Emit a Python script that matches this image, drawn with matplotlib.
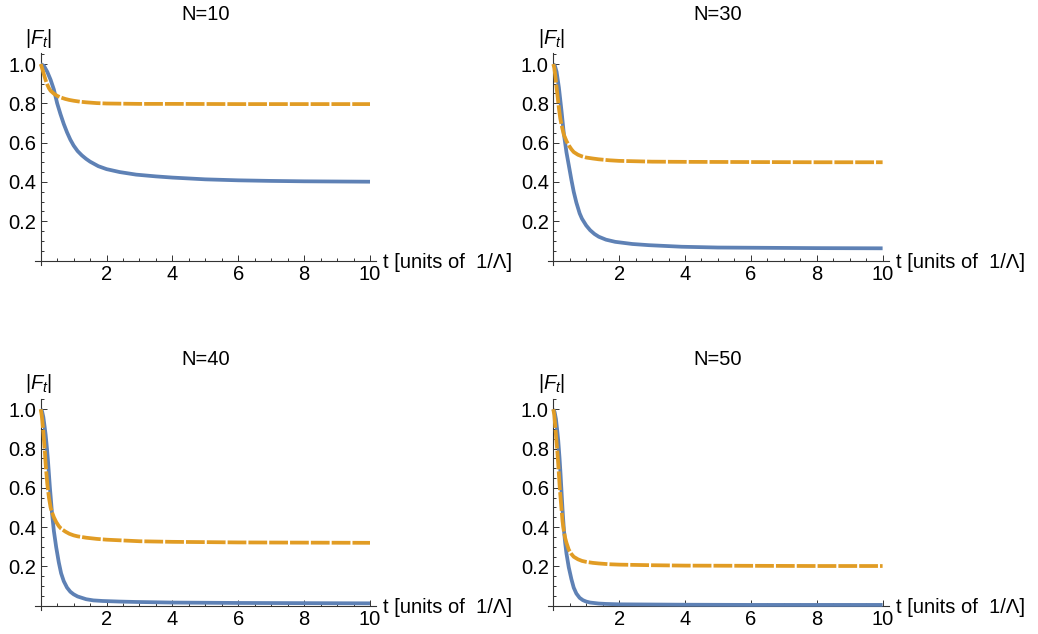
import matplotlib
matplotlib.use("Agg")
import matplotlib.pyplot as plt
from matplotlib.ticker import MultipleLocator

plt.rcParams['font.family'] = ['Liberation Sans', 'DejaVu Sans']
plt.rcParams['mathtext.fontset'] = 'custom'
plt.rcParams['mathtext.rm'] = 'Liberation Sans'
plt.rcParams['mathtext.it'] = 'Liberation Sans:italic'

titles = ["N=10", "N=30", "N=40", "N=50"]
x_label = "t [units of  1/\u039b]"
y_label = r"$|F_t|$"
x_ticks = [2, 4, 6, 8, 10]
y_ticks = [0.2, 0.4, 0.6, 0.8, 1.0]
y_tick_labels = ["0.2", "0.4", "0.6", "0.8", "1.0"]

# N=10
t_blue_10 = [0, 0.1, 0.2, 0.3, 0.4, 0.5, 0.6, 0.7, 0.8, 0.9, 1.0, 1.12, 1.25, 1.38, 1.5, 1.75, 2.0, 2.4, 2.9, 3.5, 4.0, 5.0, 6.0, 7.0, 8.0, 10.0]
y_blue_10 = [1.0, 0.99, 0.96, 0.92, 0.87, 0.80, 0.745, 0.695, 0.652, 0.615, 0.585, 0.557, 0.535, 0.517, 0.503, 0.480, 0.465, 0.450, 0.437, 0.428, 0.422, 0.413, 0.408, 0.405, 0.403, 0.401]
t_orng_10 = [0, 0.05, 0.1, 0.15, 0.2, 0.25, 0.3, 0.4, 0.5, 0.62, 0.75, 0.87, 1.0, 1.2, 1.38, 1.7, 2.0, 2.5, 3.0, 4.0, 6.0, 8.0, 10.0]
y_orng_10 = [1.0, 0.975, 0.945, 0.918, 0.895, 0.877, 0.864, 0.849, 0.838, 0.829, 0.822, 0.817, 0.813, 0.808, 0.805, 0.801, 0.799, 0.798, 0.797, 0.797, 0.796, 0.796, 0.796]

# N=30
t_blue_30 = [0, 0.05, 0.1, 0.17, 0.25, 0.32, 0.4, 0.47, 0.55, 0.62, 0.7, 0.8, 0.87, 1.0, 1.12, 1.25, 1.38, 1.6, 1.88, 2.4, 2.9, 3.9, 5.0, 6.0, 8.0, 10.0]
y_blue_30 = [1.0, 0.99, 0.96, 0.88, 0.76, 0.645, 0.55, 0.485, 0.41, 0.35, 0.295, 0.24, 0.213, 0.178, 0.154, 0.135, 0.121, 0.106, 0.095, 0.084, 0.078, 0.070, 0.066, 0.065, 0.063, 0.062]
t_orng_30 = [0, 0.03, 0.06, 0.1, 0.14, 0.17, 0.21, 0.25, 0.32, 0.4, 0.47, 0.55, 0.62, 0.75, 0.87, 1.0, 1.2, 1.38, 1.7, 2.0, 3.0, 4.0, 6.0, 8.0, 10.0]
y_orng_30 = [1.0, 0.98, 0.94, 0.88, 0.82, 0.775, 0.725, 0.69, 0.64, 0.608, 0.586, 0.566, 0.552, 0.538, 0.530, 0.524, 0.519, 0.515, 0.510, 0.507, 0.503, 0.502, 0.501, 0.500, 0.500]

# N=40
t_blue_40 = [0, 0.04, 0.08, 0.12, 0.15, 0.19, 0.22, 0.25, 0.28, 0.31, 0.34, 0.4, 0.47, 0.55, 0.62, 0.7, 0.8, 0.9, 1.0, 1.12, 1.38, 1.6, 1.88, 2.4, 2.9, 4.0, 6.0, 8.0, 10.0]
y_blue_40 = [1.0, 0.99, 0.96, 0.91, 0.87, 0.80, 0.74, 0.67, 0.60, 0.54, 0.477, 0.38, 0.298, 0.22, 0.165, 0.125, 0.092, 0.071, 0.058, 0.047, 0.033, 0.027, 0.024, 0.021, 0.019, 0.016, 0.014, 0.013, 0.012]
t_orng_40 = [0, 0.03, 0.05, 0.08, 0.1, 0.13, 0.15, 0.2, 0.25, 0.3, 0.34, 0.4, 0.47, 0.55, 0.62, 0.75, 0.87, 1.0, 1.12, 1.38, 1.7, 2.0, 3.0, 4.0, 6.0, 8.0, 10.0]
y_orng_40 = [1.0, 0.97, 0.94, 0.885, 0.84, 0.775, 0.72, 0.62, 0.55, 0.50, 0.477, 0.45, 0.426, 0.405, 0.392, 0.377, 0.366, 0.358, 0.353, 0.346, 0.340, 0.336, 0.328, 0.325, 0.322, 0.321, 0.320]

# N=50
t_blue_50 = [0, 0.04, 0.08, 0.12, 0.15, 0.19, 0.22, 0.25, 0.28, 0.32, 0.36, 0.4, 0.47, 0.55, 0.62, 0.7, 0.8, 0.9, 1.0, 1.12, 1.38, 1.6, 2.0, 3.0, 4.0, 6.0, 10.0]
y_blue_50 = [1.0, 0.985, 0.95, 0.89, 0.84, 0.75, 0.67, 0.58, 0.49, 0.39, 0.32, 0.265, 0.195, 0.135, 0.092, 0.062, 0.040, 0.028, 0.021, 0.016, 0.011, 0.009, 0.007, 0.006, 0.005, 0.004, 0.004]
t_orng_50 = [0, 0.03, 0.05, 0.08, 0.1, 0.12, 0.15, 0.2, 0.25, 0.28, 0.32, 0.36, 0.4, 0.47, 0.55, 0.62, 0.75, 0.87, 1.0, 1.2, 1.38, 1.7, 2.0, 3.0, 4.0, 6.0, 8.0, 10.0]
y_orng_50 = [1.0, 0.97, 0.93, 0.87, 0.83, 0.79, 0.72, 0.59, 0.49, 0.43, 0.38, 0.345, 0.32, 0.285, 0.263, 0.249, 0.236, 0.228, 0.223, 0.218, 0.215, 0.211, 0.209, 0.206, 0.204, 0.203, 0.202, 0.202]

blue_t = [t_blue_10, t_blue_30, t_blue_40, t_blue_50]
blue_y = [y_blue_10, y_blue_30, y_blue_40, y_blue_50]
orng_t = [t_orng_10, t_orng_30, t_orng_40, t_orng_50]
orng_y = [y_orng_10, y_orng_30, y_orng_40, y_orng_50]

BLUE = "#5E81B5"
ORANGE = "#E19C24"

W, H = 1038, 634
fig = plt.figure(figsize=(W / 100, H / 100), dpi=100)

XMIN, XMAX = -0.17, 10.18
YMIN, YMAX = -0.023, 1.054
PX_X = 32.93   # pixels per t unit
PX_Y = 196.5   # pixels per y unit

# pixel positions of the data origin for each panel
origins = [(40.7, 260.5), (553.3, 260.5), (40.7, 605.7), (553.3, 605.7)]

FS = 14.5
for i, (ox, oy) in enumerate(origins):
    left_px = ox + XMIN * PX_X
    right_px = ox + XMAX * PX_X
    top_px = oy - YMAX * PX_Y
    bot_px = oy - YMIN * PX_Y
    ax = fig.add_axes([left_px / W, 1 - bot_px / H, (right_px - left_px) / W, (bot_px - top_px) / H])
    ax.set_xlim(XMIN, XMAX)
    ax.set_ylim(YMIN, YMAX)
    ax.patch.set_alpha(0)
    ax.plot(blue_t[i], blue_y[i], color=BLUE, lw=2.7, solid_capstyle='butt',
            solid_joinstyle='round', zorder=3)
    ax.plot(orng_t[i], orng_y[i], color=ORANGE, lw=2.7, dashes=[5.0, 0.55],
            dash_joinstyle='round', zorder=4)
    for s in ['top', 'right']:
        ax.spines[s].set_visible(False)
    ax.spines['left'].set_position(('data', 0))
    ax.spines['bottom'].set_position(('data', 0))
    for s in ['left', 'bottom']:
        ax.spines[s].set_linewidth(0.8)
        ax.spines[s].set_color('#333333')
    ax.set_xticks(x_ticks)
    ax.set_xticklabels([str(v) for v in x_ticks])
    ax.set_yticks(y_ticks)
    ax.set_yticklabels(y_tick_labels)
    ax.xaxis.set_minor_locator(MultipleLocator(0.5))
    ax.yaxis.set_minor_locator(MultipleLocator(0.05))
    ax.tick_params(which='both', direction='in', color='#333333', width=0.7, labelsize=FS)
    ax.tick_params(which='major', length=4)
    ax.tick_params(which='minor', length=2.3)
    ax.tick_params(axis='x', pad=3.0)
    ax.tick_params(axis='y', pad=3.2)
    # title
    cx = ox + 5 * PX_X
    fig.text(cx / W, 1 - (oy - 246) / H, titles[i], ha='center', va='center', fontsize=FS)
    # y label
    fig.text((ox - 2) / W, 1 - (oy - 222.5) / H, y_label, ha='center', va='center', fontsize=FS)
    # x label
    fig.text((right_px + 7) / W, 1 - (oy + 1.5) / H, x_label, ha='left', va='center', fontsize=FS)

fig.savefig("out.png", dpi=100)
